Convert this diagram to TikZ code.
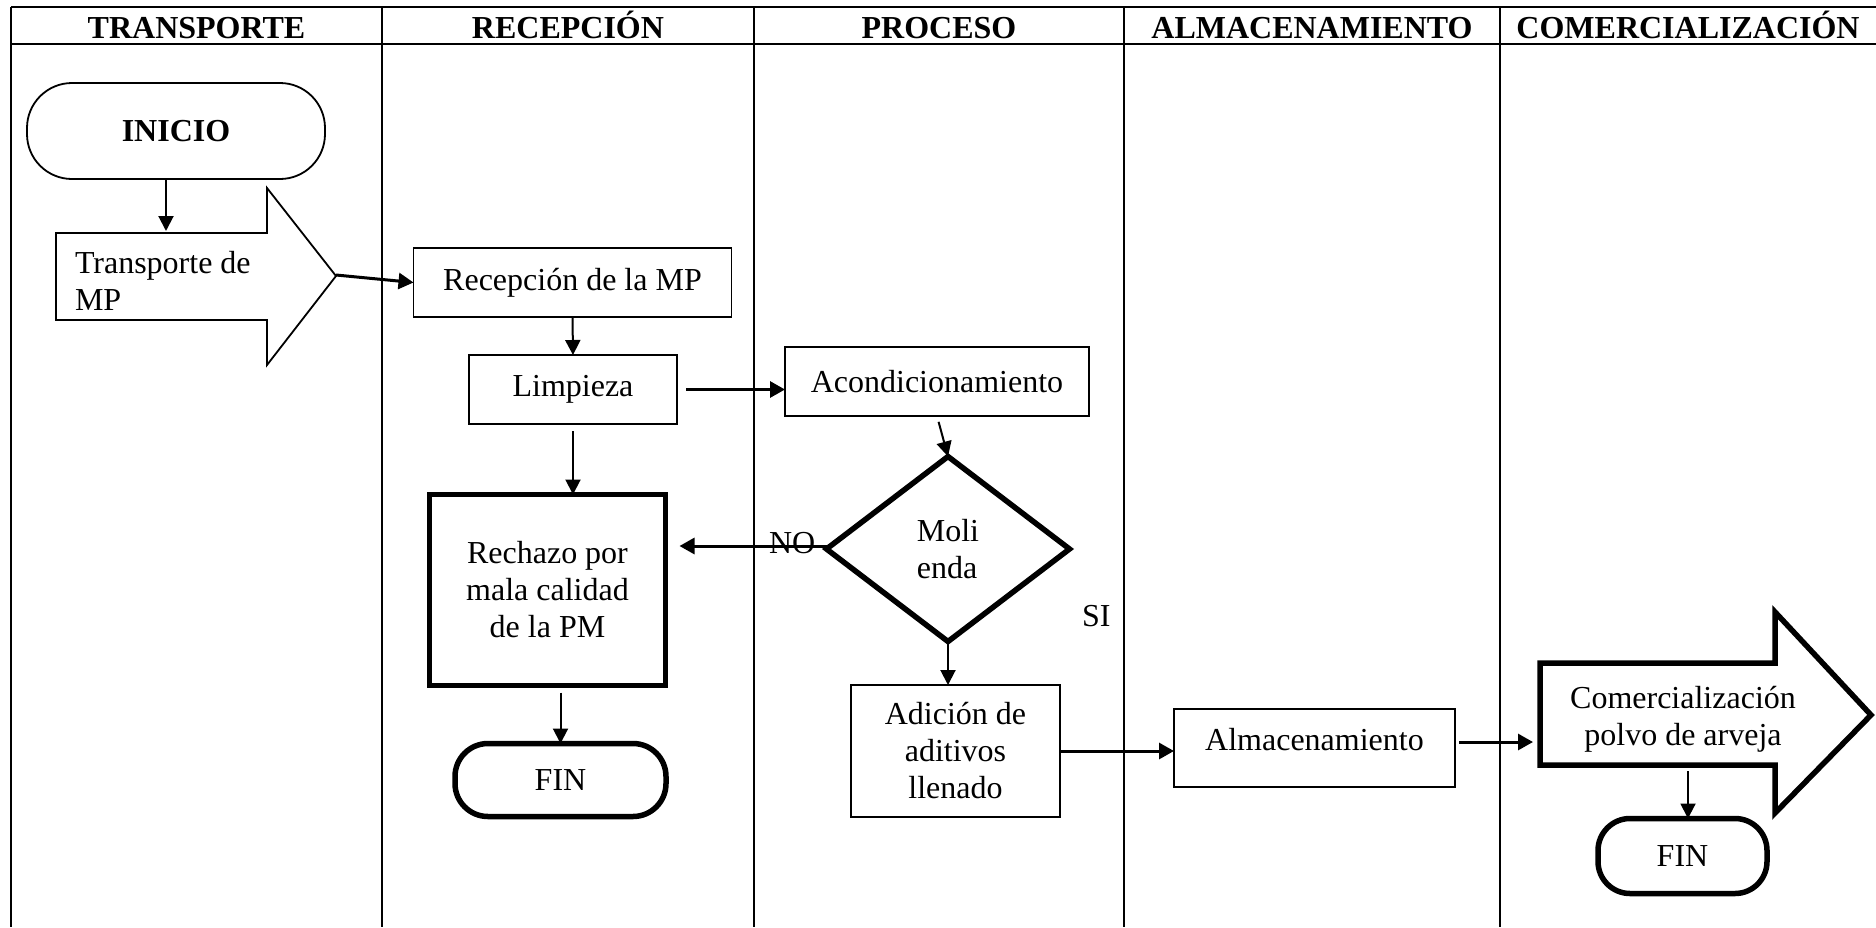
\documentclass[tikz,border=0pt]{standalone}
\usepackage{fontspec}
\setmainfont{Liberation Serif}
\usetikzlibrary{arrows.meta,shapes.geometric}
\begin{document}
\begin{tikzpicture}[x=1pt,y=-1pt,
  every node/.style={font=\fontsize{32}{37}\selectfont, inner sep=0pt, outer sep=0pt},
  lane/.style={line width=2.2pt},
  thinbox/.style={draw, rectangle, line width=1.8pt},
  thickbox/.style={draw, rectangle, line width=5.5pt},
  hdr/.style={font=\fontsize{32}{37}\selectfont\bfseries, anchor=base},
  conn/.style={line width=2pt, -{Triangle[length=15pt,width=15pt]}},
  connb/.style={line width=3pt, -{Triangle[length=15pt,width=16pt]}}
]
\useasboundingbox (0,0) rectangle (1876,927);

% swimlane grid
\draw[lane] (11,7) -- (1876,7);
\draw[lane] (11,44) -- (1876,44);
\foreach \x in {11,382,754,1124,1500} \draw[lane] (\x,7) -- (\x,927);

% lane titles
\node[hdr] (h1) at (196.5,38) {TRANSPORTE};
\node[hdr] (h2) at (568,38) {RECEPCIÓN};
\node[hdr] (h3) at (939,38) {PROCESO};
\node[hdr] (h4) at (1312,38) {ALMACENAMIENTO};
\node[hdr] (h5) at (1688,38) {COMERCIALIZACIÓN};

% start terminal
\node[thinbox, rounded corners=45pt, minimum width=298pt, minimum height=96pt,
      font=\fontsize{32}{37}\selectfont\bfseries] (ini) at (176,131) {INICIO};

% transport block arrow
\draw[line width=1.8pt, line join=miter]
  (56,233) -- (267,233) -- (267,188) -- (336,276) -- (267,365) -- (267,320) -- (56,320) -- cycle;
\coordinate (trptop) at (166,231);
\coordinate (trptip) at (336,275);
\node[align=left, anchor=west] (trp) at (75,281) {Transporte de\\MP};

% reception lane
\node[thinbox, minimum width=318pt, minimum height=69pt] (rec) at (572.5,282.5) {Recepción de la MP};
\node[thinbox, minimum width=208pt, minimum height=69pt] (lim) at (573,389.5) {Limpieza};
\node[thickbox, minimum width=236pt, minimum height=191pt, align=center] (rech) at (547.5,590)
  {Rechazo por\\mala calidad\\de la PM};
\node[draw, rectangle, line width=5.5pt, rounded corners=33pt, minimum width=211pt, minimum height=73pt]
  (finL) at (560.5,780) {FIN};

% process lane
\node[draw, diamond, line width=5.5pt, minimum width=243pt, minimum height=185pt, align=left]
  (mol) at (948,549) {Moli\\enda};
\node[thinbox, minimum width=304pt, minimum height=69pt] (aco) at (937,381.5) {Acondicionamiento};
\node[anchor=base west] (no) at (769,553) {NO};
\node[anchor=base west] (si) at (1082,626) {SI};
\node[thinbox, minimum width=209pt, minimum height=132pt, align=center] (adi) at (955.5,751)
  {Adición de\\aditivos\\llenado};

% storage lane
\node[thinbox, minimum width=281pt, minimum height=78pt, text depth=18pt] (alm) at (1314.5,748) {Almacenamiento};

% commercialisation block arrow
\draw[line width=5.5pt, line join=miter]
  (1540,663) -- (1775,663) -- (1775,612) -- (1871,715) -- (1775,813) -- (1775,765) -- (1540,765) -- cycle;
\coordinate (comin) at (1533,742);
\coordinate (comb) at (1688,766);
\node[align=center] (com) at (1683,719) {Comercialización\\polvo de arveja};
\node[draw, rectangle, line width=5.5pt, rounded corners=32pt, minimum width=169pt, minimum height=75pt]
  (finR) at (1682.5,856) {FIN};

% connectors
\draw[conn] (ini.south -| trptop) -- (trptop);
\draw[connb] (trptip) -- (rec.west);
\draw[conn] (rec.south) -- (lim.north);
\draw[connb, shorten <=9pt] (lim.east) -- (lim.east -| aco.west);
\draw[conn, shorten <=6pt] (aco.south) -- (mol.north);
\draw[connb, shorten >=14pt] ([yshift=3pt]mol.west) -- ([yshift=3pt]mol.west -| rech.east);
\draw[conn, shorten <=7pt] (lim.south) -- (lim.south |- rech.north);
\draw[conn, shorten <=7pt] (finL.north |- rech.south) -- (finL.north);
\draw[conn] (mol.south) -- (mol.south |- adi.north);
\draw[connb] (adi.east) -- (adi.east -| alm.west);
\draw[connb, shorten <=4pt] (alm.east |- comin) -- (comin);
\draw[conn, shorten <=5pt] (comb) -- (comb |- finR.north);
\end{tikzpicture}
\end{document}
